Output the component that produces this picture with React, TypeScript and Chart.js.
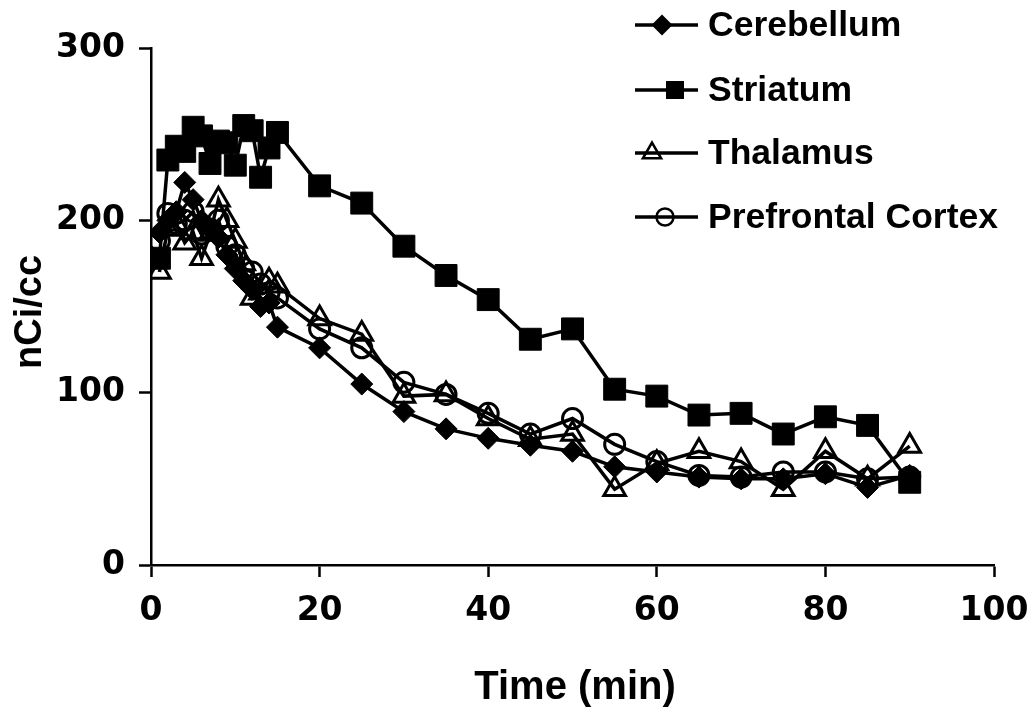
import React, { useEffect, useRef } from 'react';
import { Chart, registerables } from 'chart.js';

Chart.register(...registerables);

// Sampling times (min): one-minute frames, then five-minute frames
const TIMES = [1, 2, 3, 4, 5, 6, 7, 8, 9, 10, 11, 12, 13, 14, 15, 20, 25, 30, 35, 40, 45, 50, 55, 60, 65, 70, 75, 80, 85, 90];

// Regional activity (nCi/cc)
const CEREBELLUM = [193, 200, 205, 222, 212, 200, 195, 190, 180, 172, 165, 160, 150, 152, 138, 126, 105, 89, 79, 73.5, 69.5, 66, 57, 54, 51, 50, 50, 53, 45, 52];
const STRIATUM = [178, 235, 243, 240, 254, 249, 233, 246, 245, 232, 255, 252, 225, 242, 251, 220, 210, 185, 168, 154, 131, 137, 102, 98, 87, 88, 76, 86, 81, 48];
const THALAMUS = [170, 195, 198, 187, 193, 178, 192, 212, 200, 188, 175, 155, 158, 165, 162, 143, 134, 98, 99, 85, 73, 76, 44, 59, 66, 60, 44, 66, 50, 69];
const PREFRONTAL = [188, 204, 198, 200, 205, 192, 195, 200, 185, 180, 172, 170, 163, 158, 155, 137, 126, 106, 99, 88, 76, 85, 70, 60, 52, 51, 54, 54, 50, 51];

const SERIES_NAMES = ['Cerebellum', 'Striatum', 'Thalamus', 'Prefrontal Cortex'];
const X_TICKS = [0, 20, 40, 60, 80, 100];
const Y_TICKS = [0, 100, 200, 300];
const X_TITLE = 'Time (min)';
const Y_TITLE = 'nCi/cc';

type Marker = 'diamond' | 'square' | 'triangle' | 'circle';

const toPoints = (vals: number[]) => TIMES.map((t, i) => ({ x: t, y: vals[i] }));

function drawMarker(ctx: CanvasRenderingContext2D, kind: Marker, x: number, y: number) {
  ctx.save();
  ctx.fillStyle = '#000';
  ctx.strokeStyle = '#000';
  ctx.lineWidth = 2.5;
  ctx.beginPath();
  if (kind === 'diamond') {
    const r = 10.5;
    ctx.moveTo(x, y - r);
    ctx.lineTo(x + r, y);
    ctx.lineTo(x, y + r);
    ctx.lineTo(x - r, y);
    ctx.closePath();
    ctx.fill();
  } else if (kind === 'square') {
    const s = 18;
    ctx.rect(x - s / 2, y - s / 2, s, s);
    ctx.fill();
  } else if (kind === 'triangle') {
    const r = 10.5;
    for (let k = 0; k < 3; k++) {
      const a = -Math.PI / 2 + (k * 2 * Math.PI) / 3;
      const px = x + Math.cos(a) * r;
      const py = y + Math.sin(a) * r;
      if (k === 0) ctx.moveTo(px, py);
      else ctx.lineTo(px, py);
    }
    ctx.closePath();
    ctx.stroke();
  } else {
    ctx.arc(x, y, 8.5, 0, Math.PI * 2);
    ctx.stroke();
  }
  ctx.restore();
}

const LEGEND_ITEMS: { marker: Marker; mx: number; y: number }[] = [
  { marker: 'diamond', mx: 662, y: 25 },
  { marker: 'square', mx: 675, y: 90 },
  { marker: 'triangle', mx: 652, y: 153 },
  { marker: 'circle', mx: 665, y: 217 },
];

const decorations = {
  id: 'decorations',
  afterDraw(chart: Chart) {
    const ctx = chart.ctx;
    ctx.save();
    ctx.fillStyle = '#000';
    ctx.strokeStyle = '#000';

    // legend
    LEGEND_ITEMS.forEach((item, i) => {
      ctx.lineWidth = 3.5;
      ctx.beginPath();
      ctx.moveTo(635, item.y);
      ctx.lineTo(698, item.y);
      ctx.stroke();
      drawMarker(ctx, item.marker, item.mx, item.y);
      ctx.font = 'bold 35.5px "Liberation Sans", Arial, sans-serif';
      ctx.textAlign = 'left';
      ctx.textBaseline = 'middle';
      ctx.fillText(SERIES_NAMES[i], 708, item.y + 1);
    });

    // axis titles
    ctx.font = 'bold 40px "Liberation Sans", Arial, sans-serif';
    ctx.textAlign = 'center';
    ctx.textBaseline = 'middle';
    ctx.fillText(X_TITLE, 575, 688);
    ctx.translate(31, 312);
    ctx.rotate(-Math.PI / 2);
    ctx.font = 'bold 38px "Liberation Sans", Arial, sans-serif';
    ctx.fillText(Y_TITLE, 0, 0);
    ctx.restore();
  },
};

export default function App() {
  const canvasRef = useRef<HTMLCanvasElement | null>(null);

  useEffect(() => {
    if (!canvasRef.current) return;
    const tickFont = { family: '"DejaVu Sans", sans-serif', size: 33, weight: 'bold' as const };
    const lineDefaults = {
      borderColor: '#000',
      borderWidth: 3.5,
      tension: 0,
      pointBorderColor: '#000',
      showLine: true,
      fill: false,
    };
    const chart = new Chart(canvasRef.current, {
      type: 'scatter',
      data: {
        datasets: [
          {
            ...lineDefaults,
            label: SERIES_NAMES[0],
            data: toPoints(CEREBELLUM),
            pointStyle: 'rectRot',
            pointRadius: 11,
            pointBackgroundColor: '#000',
            pointBorderWidth: 1,
            order: 4,
          },
          {
            ...lineDefaults,
            label: SERIES_NAMES[1],
            data: toPoints(STRIATUM),
            pointStyle: 'rect',
            pointRadius: 15.5,
            pointBackgroundColor: '#000',
            pointBorderWidth: 1,
            order: 3,
          },
          {
            ...lineDefaults,
            label: SERIES_NAMES[2],
            data: toPoints(THALAMUS),
            pointStyle: 'triangle',
            pointRadius: 12.5,
            pointBackgroundColor: 'rgba(0,0,0,0)',
            pointBorderWidth: 3,
            order: 2,
          },
          {
            ...lineDefaults,
            label: SERIES_NAMES[3],
            data: toPoints(PREFRONTAL),
            pointStyle: 'circle',
            pointRadius: 10,
            pointBackgroundColor: 'rgba(0,0,0,0)',
            pointBorderWidth: 3,
            order: 1,
          },
        ],
      },
      options: {
        responsive: false,
        animation: false,
        events: [],
        devicePixelRatio: 1,
        layout: { padding: { left: 0, top: 48, right: 41, bottom: 0 } },
        plugins: {
          legend: { display: false },
          tooltip: { enabled: false },
          title: { display: false },
        },
        scales: {
          x: {
            type: 'linear',
            min: 0,
            max: 100,
            afterBuildTicks: (scale: any) => {
              scale.ticks = X_TICKS.map((v) => ({ value: v }));
            },
            afterFit: (scale: any) => {
              scale.height = 154;
              scale.paddingLeft = 0;
              scale.paddingRight = 0;
              scale.paddingTop = 0;
              scale.paddingBottom = 0;
            },
            grid: {
              drawOnChartArea: false,
              drawTicks: true,
              tickLength: 12,
              tickWidth: 2.5,
              tickColor: '#000',
            },
            border: { display: true, color: '#000', width: 2.5 },
            ticks: { color: '#000', font: tickFont, padding: 15, maxRotation: 0 },
          },
          y: {
            type: 'linear',
            min: 0,
            max: 300,
            afterBuildTicks: (scale: any) => {
              scale.ticks = Y_TICKS.map((v) => ({ value: v }));
            },
            afterFit: (scale: any) => {
              scale.width = 151;
              scale.paddingLeft = 0;
              scale.paddingRight = 0;
              scale.paddingTop = 0;
              scale.paddingBottom = 0;
            },
            grid: {
              drawOnChartArea: false,
              drawTicks: true,
              tickLength: 12,
              tickWidth: 2.5,
              tickColor: '#000',
            },
            border: { display: true, color: '#000', width: 2.5 },
            ticks: { color: '#000', font: tickFont, padding: 14 },
          },
        },
      },
      plugins: [decorations],
    });
    return () => chart.destroy();
  }, []);

  return (
    <div style={{ position: 'fixed', left: 0, top: 0, width: 1035, height: 719, background: '#fff' }}>
      <canvas ref={canvasRef} width={1035} height={719} />
    </div>
  );
}
